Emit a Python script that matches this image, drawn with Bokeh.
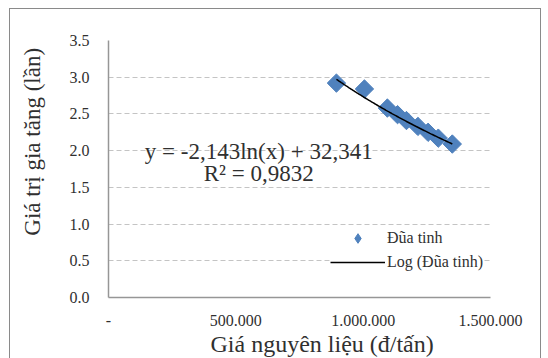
import numpy as np
from bokeh.plotting import figure
from bokeh.layouts import row
from bokeh.models import FixedTicker, Legend, LegendItem, Label, Range1d, Title
from bokeh.embed import file_html
from bokeh.resources import INLINE

# Raw material price (VND/tonne) and value-added multiple for chopsticks
price = [895000, 1005000, 1095000, 1135000, 1170000, 1215000, 1255000, 1295000, 1350000]
value_added = [2.92, 2.84, 2.58, 2.49, 2.41, 2.33, 2.25, 2.17, 2.09]

# Logarithmic trendline y = a*ln(x) + b
fit_a = -2.143
fit_b = 32.341
r_squared = 0.9832

x_ticks = [0, 500000, 1000000, 1500000]
x_tick_labels = ["-", "500.000", "1.000.000", "1.500.000"]
y_ticks = [0.0, 0.5, 1.0, 1.5, 2.0, 2.5, 3.0, 3.5]
y_tick_labels = ["0.0", "0.5", "1.0", "1.5", "2.0", "2.5", "3.0", "3.5"]

series_name = "Đũa tinh"
trend_name = "Log (Đũa tinh)"
x_title = "Giá nguyên liệu (đ/tấn)"
y_title = "Giá trị gia tăng (lần)"

FONT = "Liberation Serif"
TEXT = "#303030"
BLUE = "#4F81BD"
H = 350

# narrow strip on the left holding the vertical axis title
side = figure(width=56, height=H, output_backend="svg", toolbar_location=None,
              x_range=Range1d(0, 56), y_range=Range1d(0, H), min_border=0)
side.axis.visible = False
side.grid.visible = False
side.outline_line_color = None
side.add_layout(Label(x=22, y=212, text=y_title, angle=np.pi / 2, text_align="center",
                      text_baseline="middle", text_font=FONT, text_font_size="23px",
                      text_color=TEXT))

p = figure(width=474, height=H, output_backend="svg", toolbar_location=None,
           x_range=Range1d(0, 1500000), y_range=Range1d(0, 3.5),
           min_border_left=40, min_border_right=50, min_border_top=31, min_border_bottom=62)
p.outline_line_color = None
p.background_fill_color = "white"
p.border_fill_color = "white"

# axes
p.xaxis.ticker = FixedTicker(ticks=x_ticks)
p.xaxis.major_label_overrides = dict(zip(x_ticks, x_tick_labels))
p.yaxis.ticker = FixedTicker(ticks=y_ticks)
p.yaxis.major_label_overrides = dict(zip(y_ticks, y_tick_labels))
for ax in (p.xaxis[0], p.yaxis[0]):
    ax.axis_line_color = "#969696"
    ax.axis_line_width = 1.5
    ax.major_tick_line_color = None
    ax.minor_tick_line_color = None
    ax.major_label_text_font = FONT
    ax.major_label_text_font_size = "16px"
    ax.major_label_text_color = TEXT
p.xaxis.major_label_standoff = 11
p.yaxis.major_label_standoff = 13

# horizontal axis title, set a little right of centre
p.add_layout(Title(text=x_title, align="left", offset=102, standoff=0,
                   text_font=FONT, text_font_size="24px", text_font_style="normal",
                   text_color=TEXT), "below")

p.xgrid.visible = False
p.ygrid.grid_line_color = "#c4c4c4"
p.ygrid.grid_line_dash = "5 3"
p.ygrid.grid_line_width = 1

# data points (square turned 45 degrees)
pts = p.scatter(price, value_added, marker="square", angle=np.pi / 4, size=13,
                fill_color=BLUE, line_color=BLUE)
# legend swatch for the points (placeholder, only the key is drawn)
pts_key = p.scatter([np.nan], [np.nan], marker="diamond", size=10,
                    fill_color=BLUE, line_color=BLUE)

# trendline from the stated coefficients
xs = np.linspace(min(price), max(price), 120)
ys = fit_a * np.log(xs) + fit_b
trend = p.line(xs, ys, line_color="black", line_width=1.5)

eq_text = f"y = {fit_a:.3f}ln(x) + {fit_b:.3f}".replace(".", ",")
r2_text = f"R² = {r_squared:.4f}".replace(".", ",")
p.add_layout(Label(x=590000, y=1.99, text=eq_text, text_align="center",
                   text_baseline="alphabetic", text_font=FONT, text_font_size="23px",
                   text_color=TEXT))
p.add_layout(Label(x=590000, y=1.69, text=r2_text, text_align="center",
                   text_baseline="alphabetic", text_font=FONT, text_font_size="23px",
                   text_color=TEXT))

legend = Legend(items=[LegendItem(label=series_name, renderers=[pts_key]),
                       LegendItem(label=trend_name, renderers=[trend])],
                location=(222, 23), glyph_width=55, glyph_height=24, label_height=24,
                label_standoff=2, spacing=0, padding=0, margin=0,
                border_line_color=None, background_fill_color="white",
                background_fill_alpha=1.0, label_text_font=FONT,
                label_text_font_size="16px", label_text_color=TEXT)
p.add_layout(legend)

chart = row(side, p, margin=(8, 0, 0, 9),
            styles={"border-left": "1px solid #8a8a8a", "border-top": "1px solid #8a8a8a",
                    "border-right": "1px solid #8a8a8a"})

open("out.html", "w").write(file_html(chart, INLINE))
